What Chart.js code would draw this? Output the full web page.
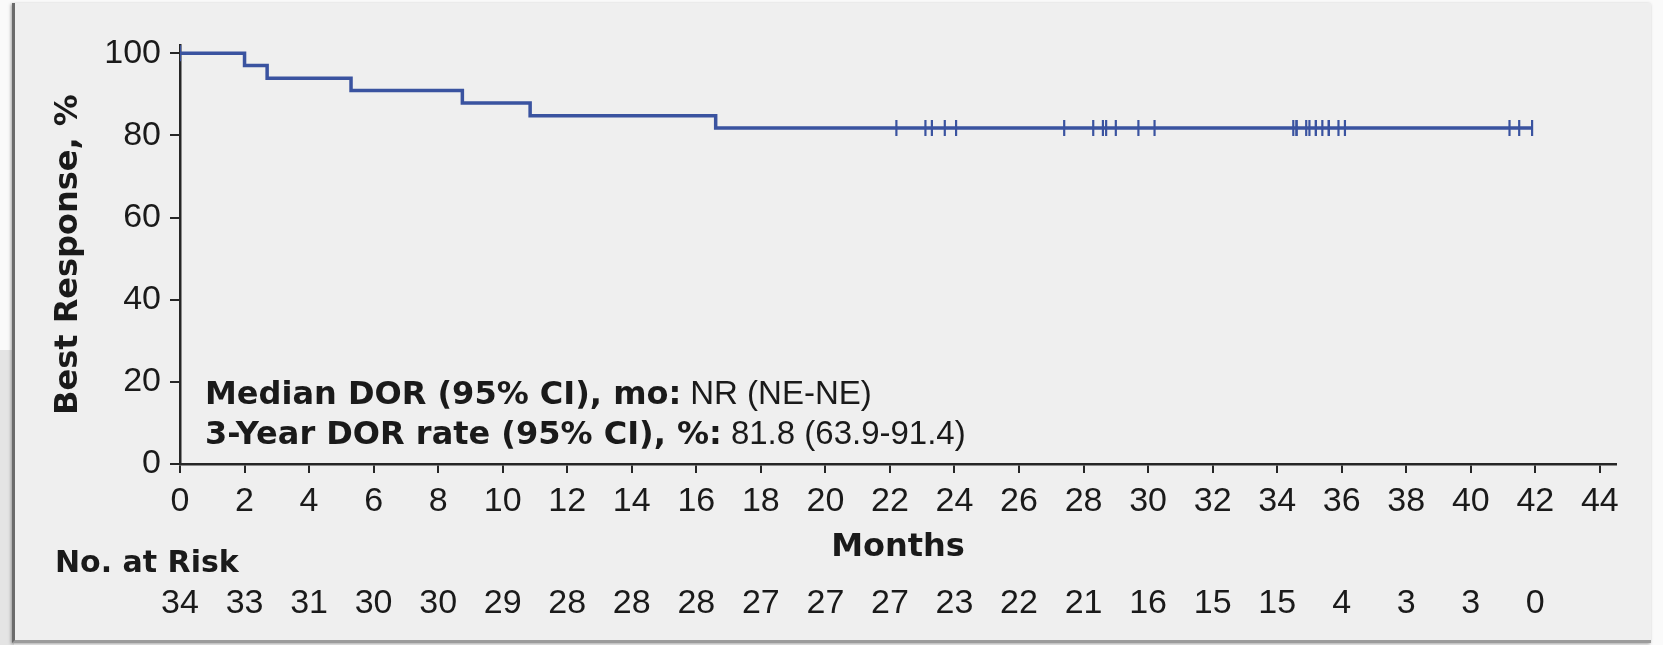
<!DOCTYPE html>
<html>
<head>
<meta charset="utf-8">
<script src="https://cdn.jsdelivr.net/npm/chart.js@4.4.1/dist/chart.umd.min.js"></script>
<style>
  html, body { margin: 0; padding: 0; background: #fafafa; }
  #wrap { position: relative; width: 1663px; height: 645px; overflow: hidden; }
  #side { position: absolute; left: 0; top: 350px; width: 14px; height: 295px; background: #e4e4e4; }
  #panel {
    position: absolute; left: 12px; top: 3px; width: 1636px; height: 637px;
    background: #efefef;
    border-left: 3px solid #6b6b6b; border-bottom: 3px solid #9c9c9c;
    box-shadow: -1px 1px 3px rgba(0,0,0,0.35);
  }
  canvas { position: absolute; left: 0; top: 0; }
</style>
</head>
<body>
<div id="wrap">
  <div id="side"></div>
  <div id="panel"></div>
  <canvas id="km" width="1663" height="645"></canvas>
</div>
<script>
// Kaplan–Meier steps: month of each drop and the estimate (%) from that month on
const stepMonths = [0, 2.0, 2.7, 5.3, 8.75, 10.85, 16.6, 41.9];
const stepPct    = [100, 97.0, 93.9, 90.9, 87.9, 84.8, 81.8, 81.8];

// Censored responders (months)
const censoredMonths = [0, 22.2, 23.1, 23.3, 23.7, 24.05, 27.4, 28.3, 28.6, 28.7, 29.0, 29.7, 30.2,
  34.5, 34.6, 34.6, 34.9, 35.0, 35.2, 35.2, 35.4, 35.6, 35.6, 35.9, 36.1, 41.2, 41.5, 41.9];

// Axis ticks
const xTickMonths = [0, 2, 4, 6, 8, 10, 12, 14, 16, 18, 20, 22, 24, 26, 28, 30, 32, 34, 36, 38, 40, 42, 44];
const yTickPct = [0, 20, 40, 60, 80, 100];

// Number at risk table
const riskMonths = [0, 2, 4, 6, 8, 10, 12, 14, 16, 18, 20, 22, 24, 26, 28, 30, 32, 34, 36, 38, 40, 42];
const atRisk     = [34, 33, 31, 30, 30, 29, 28, 28, 28, 27, 27, 27, 23, 22, 21, 16, 15, 15, 4, 3, 3, 0];

// Summary statistics: [bold label, value]
const summaryLines = [
  ['Median DOR (95% CI), mo:', 'NR (NE-NE)'],
  ['3-Year DOR rate (95% CI), %:', '81.8 (63.9-91.4)']
];

const BOLD_FONT = '"DejaVu Sans", sans-serif';
const FONT = '"Liberation Sans", Arial, sans-serif';
const TEXT = '#1a1a1a';
const AXIS = '#262626';
const BLUE = '#3a53a0';

function pctAt(month) {
  let v = stepPct[0];
  for (let i = 0; i < stepMonths.length; i++) if (stepMonths[i] <= month) v = stepPct[i];
  return v;
}

const textPlugin = {
  id: 'kmText',
  afterDraw(chart) {
    const ctx = chart.ctx;
    const xs = chart.scales.x;
    ctx.save();
    ctx.fillStyle = TEXT;
    ctx.textBaseline = 'alphabetic';
    ctx.textAlign = 'left';
    const baselines = [404, 444];
    summaryLines.forEach((ln, i) => {
      let x = 205;
      ctx.font = 'bold 32px ' + BOLD_FONT;
      ctx.fillText(ln[0], x, baselines[i]);
      x += ctx.measureText(ln[0]).width + 9;
      ctx.font = '33px ' + FONT;
      ctx.fillText(ln[1], x, baselines[i]);
    });

    ctx.textBaseline = 'middle';
    ctx.font = 'bold 30px ' + BOLD_FONT;
    ctx.fillText('No. at Risk', 55, 564);
    ctx.textAlign = 'center';
    ctx.font = '34px ' + FONT;
    riskMonths.forEach((m, i) => {
      ctx.fillText(String(atRisk[i]), xs.getPixelForValue(m), 604);
    });
    ctx.restore();
  }
};

new Chart(document.getElementById('km'), {
  type: 'scatter',
  data: {
    datasets: [
      {
        type: 'line',
        data: stepMonths.map((m, i) => ({ x: m, y: stepPct[i] })),
        stepped: true,
        borderColor: BLUE,
        borderWidth: 3.5,
        pointRadius: 0,
        fill: false
      },
      {
        type: 'scatter',
        data: censoredMonths.map(m => ({ x: m, y: pctAt(m) })),
        pointStyle: 'line',
        pointRotation: 90,
        pointRadius: 8,
        pointBorderWidth: 2.2,
        pointBorderColor: BLUE,
        borderColor: BLUE
      }
    ]
  },
  options: {
    responsive: false,
    animation: false,
    devicePixelRatio: 1,
    layout: { padding: { left: 15, top: 45, right: 47, bottom: 0 } },
    plugins: { legend: { display: false }, tooltip: { enabled: false } },
    scales: {
      x: {
        type: 'linear',
        min: 0,
        max: 44.5,
        afterBuildTicks: s => { s.ticks = xTickMonths.map(v => ({ value: v })); },
        afterFit: s => { s.height = 181; },
        grid: { drawOnChartArea: false, drawTicks: true, tickLength: 9, color: AXIS, lineWidth: 2 },
        border: { display: true, color: AXIS, width: 2.5 },
        ticks: { padding: 8, color: TEXT, font: { family: FONT, size: 34 }, maxRotation: 0, autoSkip: false },
        title: {
          display: true, text: 'Months', color: TEXT,
          font: { family: BOLD_FONT, size: 32, weight: 'bold' },
          padding: { top: 0, bottom: 78 }
        }
      },
      y: {
        type: 'linear',
        min: 0,
        max: 102,
        afterBuildTicks: s => { s.ticks = yTickPct.map(v => ({ value: v })); },
        afterFit: s => { s.width = 165; },
        grid: { drawOnChartArea: false, drawTicks: true, tickLength: 10, color: AXIS, lineWidth: 2 },
        border: { display: true, color: AXIS, width: 2.5 },
        ticks: { padding: 9, color: TEXT, font: { family: FONT, size: 34 } },
        title: {
          display: true, text: 'Best Response, %', color: TEXT,
          font: { family: BOLD_FONT, size: 32, weight: 'bold' },
          padding: { top: 34, bottom: 0 }
        }
      }
    }
  },
  plugins: [textPlugin]
});
</script>
</body>
</html>
